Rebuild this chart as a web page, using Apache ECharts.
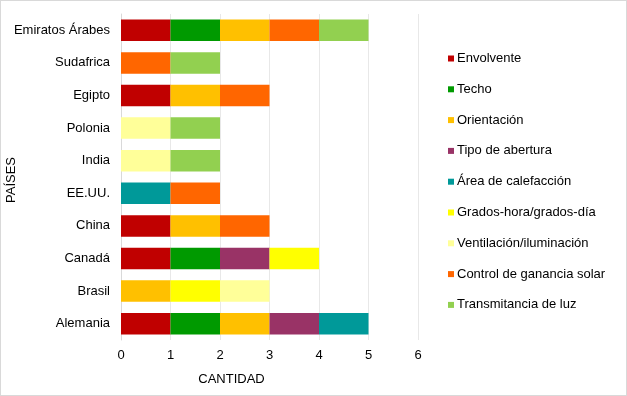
<!DOCTYPE html>
<html>
<head>
<meta charset="utf-8">
<script src="https://cdn.jsdelivr.net/npm/echarts@6/dist/echarts.min.js"></script>
<style>
  html, body { margin: 0; padding: 0; background: #fff; }
  #chart { width: 625px; height: 394px; border: 1px solid #d9d9d9; }
</style>
</head>
<body>
<div id="chart"></div>
<script>
// countries, bottom to top
const paises = ['Alemania', 'Brasil', 'Canadá', 'China', 'EE.UU.', 'India', 'Polonia', 'Egipto', 'Sudafrica', 'Emiratos Árabes'];

const seriesNames = [
  'Envolvente', 'Techo', 'Orientación', 'Tipo de abertura', 'Área de calefacción',
  'Grados-hora/grados-día', 'Ventilación/iluminación', 'Control de ganancia solar', 'Transmitancia de luz'
];

// one value per country (same order as paises)
const envolvente     = [1, 0, 1, 1, 0, 0, 0, 1, 0, 1];
const techo          = [1, 0, 1, 0, 0, 0, 0, 0, 0, 1];
const orientacion    = [1, 1, 0, 1, 0, 0, 0, 1, 0, 1];
const tipoAbertura   = [1, 0, 1, 0, 0, 0, 0, 0, 0, 0];
const areaCalef      = [1, 0, 0, 0, 1, 0, 0, 0, 0, 0];
const gradosHora     = [0, 1, 1, 0, 0, 0, 0, 0, 0, 0];
const ventilacion    = [0, 1, 0, 0, 0, 1, 1, 0, 0, 0];
const controlSolar   = [0, 0, 0, 1, 1, 0, 0, 1, 1, 1];
const transmitancia  = [0, 0, 0, 0, 0, 1, 1, 0, 1, 1];

const values = [envolvente, techo, orientacion, tipoAbertura, areaCalef,
  gradosHora, ventilacion, controlSolar, transmitancia];

const colors = ['#C00000', '#009A00', '#FFC000', '#993366', '#009999',
  '#FFFF00', '#FFFF99', '#FF6600', '#92D050'];

const chart = echarts.init(document.getElementById('chart'));
const font = 'Liberation Sans, Arial, sans-serif';

chart.setOption({
  animation: false,
  color: colors,
  textStyle: { fontFamily: font },
  grid: {
    left: 120, top: 13, width: 297, height: 326,
    containLabel: false, outerBoundsMode: 'none'
  },
  legend: {
    orient: 'vertical',
    left: 442,
    top: 46,
    itemWidth: 6,
    itemHeight: 6,
    itemGap: 17.8,
    icon: 'rect',
    textStyle: { fontSize: 13, color: '#000', fontFamily: font, padding: [0, 0, 0, -2] },
    data: seriesNames
  },
  xAxis: {
    type: 'value',
    min: 0, max: 6, interval: 1,
    name: 'CANTIDAD',
    nameLocation: 'middle',
    nameGap: 33,
    nameTextStyle: { fontSize: 13, color: '#000', padding: [0, 76, 0, 0] },
    axisLabel: { fontSize: 13, color: '#000', margin: 9 },
    axisLine: { show: false },
    axisTick: { show: false },
    splitLine: { lineStyle: { color: '#e8e8e8' } }
  },
  yAxis: {
    type: 'category',
    data: paises,
    name: 'PAÍSES',
    nameLocation: 'middle',
    nameGap: 103,
    nameMoveOverlap: false,
    nameRotate: 90,
    nameTextStyle: { fontSize: 13, color: '#000', padding: [0, 6, 0, 0] },
    axisLabel: { fontSize: 13, color: '#000', margin: 11 },
    axisLine: { lineStyle: { color: '#d9d9d9' } },
    axisTick: { show: false }
  },
  series: seriesNames.map((name, i) => ({
    name: name,
    type: 'bar',
    stack: 'total',
    barCategoryGap: '34%',
    data: values[i].map(v => v === 0 ? null : v)
  }))
});
</script>
</body>
</html>
